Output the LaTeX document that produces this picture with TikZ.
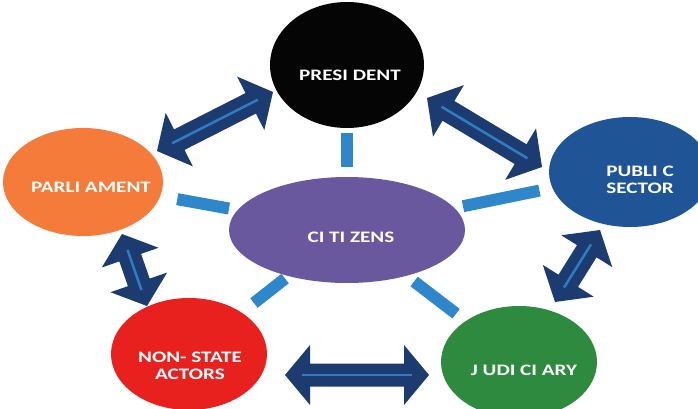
\documentclass[tikz,border=0pt]{standalone}
\usepackage{fontspec}
\newfontfamily\labfont{Carlito}[FakeStretch=1.32]
\usetikzlibrary{shapes.geometric,calc}
\definecolor{navyA}{HTML}{1C3B70}
\definecolor{lineblue}{HTML}{2F7DC0}
\definecolor{barblue}{HTML}{2E87CB}
\definecolor{presblack}{HTML}{050505}
\definecolor{parorange}{HTML}{F57B3A}
\definecolor{pubblue}{HTML}{1F5596}
\definecolor{citpurple}{HTML}{6A589E}
\definecolor{nsared}{HTML}{E8211F}
\definecolor{judgreen}{HTML}{2E8A3F}
\newcommand{\dblarr}[2]{%
  \fill[navyA] (#1)
    -- ($(#1)!25pt!(#2)!30pt!90:(#2)$)
    -- ($(#1)!25pt!(#2)!11.5pt!90:(#2)$)
    -- ($(#2)!25pt!(#1)!11.5pt!-90:(#1)$)
    -- ($(#2)!25pt!(#1)!30pt!-90:(#1)$)
    -- (#2)
    -- ($(#2)!25pt!(#1)!30pt!90:(#1)$)
    -- ($(#2)!25pt!(#1)!11.5pt!90:(#1)$)
    -- ($(#1)!25pt!(#2)!11.5pt!-90:(#2)$)
    -- ($(#1)!25pt!(#2)!30pt!-90:(#2)$)
    -- cycle;
  \draw[innerline] ($(#1)!17pt!(#2)$) -- ($(#2)!17pt!(#1)$);}
\begin{document}
\begin{tikzpicture}[x=1pt,y=-1pt,
  ell/.style={ellipse, inner sep=0pt, draw=none},
  lab/.style={text=white, font=\labfont\bfseries\fontsize{16}{16.5}\selectfont, align=center, inner sep=0pt},
  bar/.style={draw=barblue, line width=12pt},
  innerline/.style={draw=lineblue, line width=2.5pt}]
\useasboundingbox (0,0) rectangle (698,409);
\clip (0,0) rectangle (698,409);
\fill[white] (0,0) rectangle (698,409);
% circles
\node[ell, fill=presblack, minimum width=154pt, minimum height=126pt] (pres) at (347,65) {};
\node[ell, fill=parorange, minimum width=160pt, minimum height=108pt] (par) at (83,182) {};
\node[ell, fill=pubblue, minimum width=162pt, minimum height=110pt] (pub) at (630,172) {};
\node[ell, fill=citpurple, minimum width=236pt, minimum height=106pt] (cit) at (347,230) {};
\node[ell, fill=nsared, minimum width=156pt, minimum height=112pt] (nsa) at (189,354) {};
\node[ell, fill=judgreen, minimum width=156pt, minimum height=112pt] (jud) at (519,362) {};
% labels
\node[lab] (presT) at (350,75.5) {PRESI DENT};
\node[lab] (parT) at (91,187.5) {PARLI AMENT};
\node[lab] (pubT) at (640,180) {PUBLI C\\SECTOR};
\node[lab] (citT) at (351,237) {CI TI ZENS};
\node[lab] (nsaT) at (190,366) {NON- STATE\\ACTORS};
\node[lab] (judT) at (524,370.5) {J UDI CI ARY};
% bars to citizens
\draw[bar] ($(cit.center)!0.384!(pres.center)$) -- ($(cit.center)!0.585!(pres.center)$);
\draw[bar] ($(cit.center)!0.447!(par.center)$) -- ($(cit.center)!0.643!(par.center)$);
\draw[bar] ($(cit.center)!0.41!(pub.center)$) -- ($(cit.center)!0.68!(pub.center)$);
\draw[bar] ($(cit.center)!0.392!(nsa.center)$) -- ($(cit.center)!0.589!(nsa.center)$);
\draw[bar] ($(cit.center)!0.39!(jud.center)$) -- ($(cit.center)!0.634!(jud.center)$);
% double arrows
\coordinate (a1) at (157,151);
\coordinate (a2) at (273,92);
\coordinate (b1) at (427,98);
\coordinate (b2) at (542,167);
\coordinate (c1) at (122,234);
\coordinate (c2) at (147,306);
\coordinate (d1) at (600,230);
\coordinate (d2) at (555,302);
\coordinate (e1) at (285,375);
\coordinate (e2) at (429,375);
\dblarr{a1}{a2}
\dblarr{b1}{b2}
\dblarr{c1}{c2}
\dblarr{d1}{d2}
\dblarr{e1}{e2}
\end{tikzpicture}
\end{document}
